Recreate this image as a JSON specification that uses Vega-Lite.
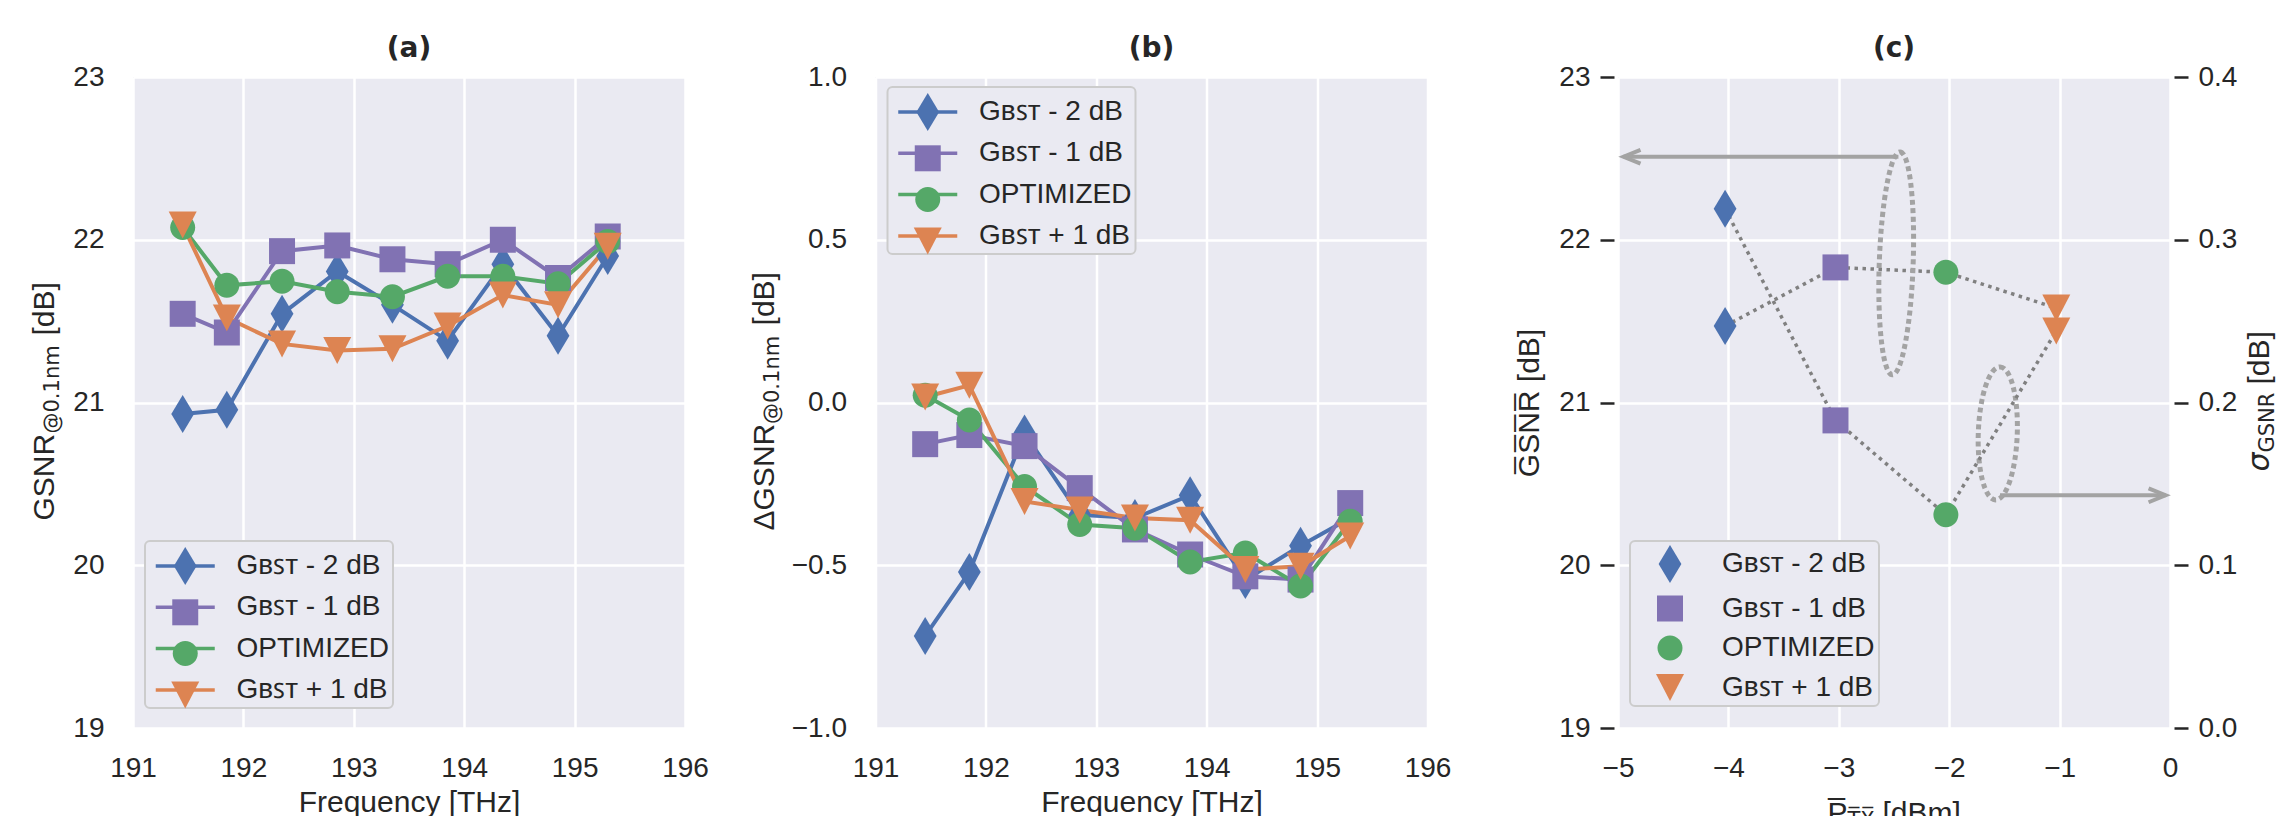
{
  "$schema": "https://vega.github.io/schema/vega-lite/v6.json",
  "autosize": {"type": "pad"},
  "padding": {"left": 28, "top": 34, "right": 0, "bottom": 0},
  "background": "white",
  "config": {
    "view": {"fill": "#EAEAF2", "stroke": null},
    "font": "Liberation Sans",
    "axis": {"labelFont": "Liberation Sans", "labelFontSize": 28, "labelColor": "#262626", "titleFont": "Liberation Sans", "titleFontSize": 30, "titleFontWeight": "normal", "titleColor": "#262626", "gridColor": "#FFFFFF", "gridWidth": 2.5, "gridOpacity": 1, "domain": false, "ticks": false, "tickSize": 0, "labelFlush": false, "labelOverlap": false},
    "title": {"font": "DejaVu Sans", "fontSize": 28, "fontWeight": "bold", "color": "#262626", "anchor": "middle", "frame": "group", "baseline": "alphabetic", "offset": 0.5},
    "legend": {"labelFont": "Liberation Sans", "labelFontSize": 28, "labelColor": "#262626", "labelLimit": 500, "fillColor": "#EAEAF2", "strokeColor": "#CCCCCC", "cornerRadius": 5, "symbolOpacity": 1, "padding": 4, "strokeWidth": 2}
  },
  "datasets": {
    "a": [
      {"f": 191.45, "v": 20.93, "s": "GBST - 2 dB"}, {"f": 191.85, "v": 20.955, "s": "GBST - 2 dB"}, {"f": 192.35, "v": 21.545, "s": "GBST - 2 dB"}, {"f": 192.85, "v": 21.805, "s": "GBST - 2 dB"}, {"f": 193.35, "v": 21.6, "s": "GBST - 2 dB"}, {"f": 193.85, "v": 21.38, "s": "GBST - 2 dB"}, {"f": 194.35, "v": 21.85, "s": "GBST - 2 dB"}, {"f": 194.85, "v": 21.41, "s": "GBST - 2 dB"}, {"f": 195.3, "v": 21.9, "s": "GBST - 2 dB"},
      {"f": 191.45, "v": 21.545, "s": "GBST - 1 dB"}, {"f": 191.85, "v": 21.43, "s": "GBST - 1 dB"}, {"f": 192.35, "v": 21.93, "s": "GBST - 1 dB"}, {"f": 192.85, "v": 21.965, "s": "GBST - 1 dB"}, {"f": 193.35, "v": 21.88, "s": "GBST - 1 dB"}, {"f": 193.85, "v": 21.85, "s": "GBST - 1 dB"}, {"f": 194.35, "v": 22.0, "s": "GBST - 1 dB"}, {"f": 194.85, "v": 21.765, "s": "GBST - 1 dB"}, {"f": 195.3, "v": 22.02, "s": "GBST - 1 dB"},
      {"f": 191.45, "v": 22.075, "s": "OPTIMIZED"}, {"f": 191.85, "v": 21.72, "s": "OPTIMIZED"}, {"f": 192.35, "v": 21.745, "s": "OPTIMIZED"}, {"f": 192.85, "v": 21.68, "s": "OPTIMIZED"}, {"f": 193.35, "v": 21.65, "s": "OPTIMIZED"}, {"f": 193.85, "v": 21.775, "s": "OPTIMIZED"}, {"f": 194.35, "v": 21.775, "s": "OPTIMIZED"}, {"f": 194.85, "v": 21.73, "s": "OPTIMIZED"}, {"f": 195.3, "v": 21.99, "s": "OPTIMIZED"},
      {"f": 191.45, "v": 22.09, "s": "GBST + 1 dB"}, {"f": 191.85, "v": 21.52, "s": "GBST + 1 dB"}, {"f": 192.35, "v": 21.36, "s": "GBST + 1 dB"}, {"f": 192.85, "v": 21.32, "s": "GBST + 1 dB"}, {"f": 193.35, "v": 21.33, "s": "GBST + 1 dB"}, {"f": 193.85, "v": 21.47, "s": "GBST + 1 dB"}, {"f": 194.35, "v": 21.66, "s": "GBST + 1 dB"}, {"f": 194.85, "v": 21.6, "s": "GBST + 1 dB"}, {"f": 195.3, "v": 21.96, "s": "GBST + 1 dB"}
    ],
    "b": [
      {"f": 191.45, "v": -0.717, "s": "GBST - 2 dB"}, {"f": 191.85, "v": -0.521, "s": "GBST - 2 dB"}, {"f": 192.35, "v": -0.095, "s": "GBST - 2 dB"}, {"f": 192.85, "v": -0.345, "s": "GBST - 2 dB"}, {"f": 193.35, "v": -0.355, "s": "GBST - 2 dB"}, {"f": 193.85, "v": -0.285, "s": "GBST - 2 dB"}, {"f": 194.35, "v": -0.545, "s": "GBST - 2 dB"}, {"f": 194.85, "v": -0.44, "s": "GBST - 2 dB"}, {"f": 195.3, "v": -0.355, "s": "GBST - 2 dB"},
      {"f": 191.45, "v": -0.128, "s": "GBST - 1 dB"}, {"f": 191.85, "v": -0.1, "s": "GBST - 1 dB"}, {"f": 192.35, "v": -0.134, "s": "GBST - 1 dB"}, {"f": 192.85, "v": -0.263, "s": "GBST - 1 dB"}, {"f": 193.35, "v": -0.39, "s": "GBST - 1 dB"}, {"f": 193.85, "v": -0.467, "s": "GBST - 1 dB"}, {"f": 194.35, "v": -0.534, "s": "GBST - 1 dB"}, {"f": 194.85, "v": -0.544, "s": "GBST - 1 dB"}, {"f": 195.3, "v": -0.309, "s": "GBST - 1 dB"},
      {"f": 191.45, "v": 0.022, "s": "OPTIMIZED"}, {"f": 191.85, "v": -0.054, "s": "OPTIMIZED"}, {"f": 192.35, "v": -0.258, "s": "OPTIMIZED"}, {"f": 192.85, "v": -0.375, "s": "OPTIMIZED"}, {"f": 193.35, "v": -0.386, "s": "OPTIMIZED"}, {"f": 193.85, "v": -0.49, "s": "OPTIMIZED"}, {"f": 194.35, "v": -0.462, "s": "OPTIMIZED"}, {"f": 194.85, "v": -0.564, "s": "OPTIMIZED"}, {"f": 195.3, "v": -0.365, "s": "OPTIMIZED"},
      {"f": 191.45, "v": 0.017, "s": "GBST + 1 dB"}, {"f": 191.85, "v": 0.053, "s": "GBST + 1 dB"}, {"f": 192.35, "v": -0.304, "s": "GBST + 1 dB"}, {"f": 192.85, "v": -0.33, "s": "GBST + 1 dB"}, {"f": 193.35, "v": -0.355, "s": "GBST + 1 dB"}, {"f": 193.85, "v": -0.362, "s": "GBST + 1 dB"}, {"f": 194.35, "v": -0.513, "s": "GBST + 1 dB"}, {"f": 194.85, "v": -0.503, "s": "GBST + 1 dB"}, {"f": 195.3, "v": -0.41, "s": "GBST + 1 dB"}
    ],
    "c": [
      {"p": -4.03, "m": 21.47, "sd": 0.319, "s": "GBST - 2 dB"},
      {"p": -3.03, "m": 21.83, "sd": 0.189, "s": "GBST - 1 dB"},
      {"p": -2.03, "m": 21.8, "sd": 0.131, "s": "OPTIMIZED"},
      {"p": -1.03, "m": 21.58, "sd": 0.244, "s": "GBST + 1 dB"}
    ],
    "ell1": [{"p": -2.48, "m": 21.855}],
    "ell2": [{"p": -1.56, "m": 20.81}],
    "arrows": [{"p": -2.46, "p2": -4.95, "m": 22.51}, {"p": -1.54, "p2": -0.04, "m": 20.43}],
    "headL": [{"p": -4.95, "m": 22.51}],
    "headR": [{"p": -0.04, "m": 20.43}]
  },
  "spacing": 190.5,
  "bounds": "flush",
  "resolve": {"scale": {"color": "shared", "shape": "shared", "stroke": "shared"}, "legend": {"color": "independent", "shape": "independent", "stroke": "independent"}},
  "hconcat": [
    {
      "width": 552, "height": 651,
      "title": {"text": "(a)"},
      "data": {"name": "a"},
      "resolve": {"axis": {"y": "independent"}},
      "layer": [
        {
          "mark": {"type": "line", "strokeWidth": 4},
          "encoding": {
            "x": {"field": "f", "type": "quantitative", "scale": {"domain": [191, 196], "nice": false, "zero": false}, "axis": {"values": [191, 192, 193, 194, 195, 196], "format": "d", "grid": true, "labelPadding": 48, "labelBaseline": "alphabetic", "title": "Frequency [THz]", "titleBaseline": "alphabetic", "titleY": 83.5}},
            "y": {"field": "v", "type": "quantitative", "scale": {"domain": [19, 23], "nice": false, "zero": false}, "axis": {"orient": "left", "values": [19, 20, 21, 22, 23], "format": "d", "grid": true, "labelPadding": 29, "title": "GSNR\u2003\u2003\u2003 [dB]", "titleAngle": 270, "titleAlign": "left", "titleBaseline": "alphabetic", "titleX": -80, "titleY": 443}},
            "stroke": {"field": "s", "type": "nominal", "sort": ["GBST - 2 dB", "GBST - 1 dB", "OPTIMIZED", "GBST + 1 dB"], "scale": {"range": ["#4C72B0", "#8172B3", "#55A868", "#DD8452"]}, "legend": {
              "orient": "none", "legendX": 12, "legendY": 464, "title": null, "zindex": 1,
              "symbolType": "M-1.553,0L1.553,0", "symbolSize": 1444, "symbolStrokeWidth": 3.5, "symbolOffset": 15.25, "labelOffset": 30.25, "rowPadding": 6.3,
              "labelExpr": "replace(datum.label, 'BST', '\u0299\uA731\u1D1B')"
            }}
          }
        },
        {
          "mark": {"type": "point", "filled": true, "opacity": 1, "size": 1444},
          "encoding": {
            "x": {"field": "f", "type": "quantitative", "axis": {"values": [191, 192, 193, 194, 195, 196], "format": "d", "grid": true, "labelPadding": 48, "labelBaseline": "alphabetic", "title": "Frequency [THz]", "titleBaseline": "alphabetic", "titleY": 83.5}},
            "y": {"field": "v", "type": "quantitative", "axis": {"orient": "left", "labels": false, "grid": false, "title": "@0.1nm", "titleFont": "DejaVu Sans", "titleFontSize": 21, "titleAngle": 270, "titleAlign": "left", "titleBaseline": "alphabetic", "titleX": -75, "titleY": 356}},
            "color": {"field": "s", "type": "nominal", "scale": {"domain": ["GBST - 2 dB", "GBST - 1 dB", "OPTIMIZED", "GBST + 1 dB"], "range": ["#4C72B0", "#8172B3", "#55A868", "#DD8452"]}, "legend": {
              "orient": "none", "legendX": 12, "legendY": 464, "title": null, "zindex": 2,
              "symbolSize": 1444, "symbolStrokeWidth": 3.5, "symbolOffset": 15.25, "labelOffset": 30.25, "rowPadding": 6.3,
              "fillColor": "transparent", "strokeColor": "transparent",
              "labelExpr": "''"
            }},
            "shape": {"field": "s", "type": "nominal", "scale": {"domain": ["GBST - 2 dB", "GBST - 1 dB", "OPTIMIZED", "GBST + 1 dB"], "range": ["M0,-1L0.6,0L0,1L-0.6,0Z", "M-0.684,-0.684L0.684,-0.684L0.684,0.684L-0.684,0.684Z", "M-0.658,0A0.658,0.658 0 1,0 0.658,0A0.658,0.658 0 1,0 -0.658,0Z", "M0,0.71L-0.737,-0.71L0.737,-0.71Z"]}, "legend": null}
          }
        }
      ]
    },
    {
      "width": 552, "height": 651,
      "title": {"text": "(b)"},
      "data": {"name": "b"},
      "resolve": {"axis": {"y": "independent"}},
      "layer": [
        {
          "mark": {"type": "line", "strokeWidth": 4},
          "encoding": {
            "x": {"field": "f", "type": "quantitative", "scale": {"domain": [191, 196], "nice": false, "zero": false}, "axis": {"values": [191, 192, 193, 194, 195, 196], "format": "d", "grid": true, "labelPadding": 48, "labelBaseline": "alphabetic", "title": "Frequency [THz]", "titleBaseline": "alphabetic", "titleY": 83.5}},
            "y": {"field": "v", "type": "quantitative", "scale": {"domain": [-1, 1], "nice": false, "zero": false}, "axis": {"orient": "left", "values": [-1, -0.5, 0, 0.5, 1], "format": ".1f", "grid": true, "labelPadding": 29, "title": "\u0394GSNR\u2003\u2003\u2003 [dB]", "titleAngle": 270, "titleAlign": "left", "titleBaseline": "alphabetic", "titleX": -102, "titleY": 453}},
            "stroke": {"field": "s", "type": "nominal", "sort": ["GBST - 2 dB", "GBST - 1 dB", "OPTIMIZED", "GBST + 1 dB"], "scale": {"range": ["#4C72B0", "#8172B3", "#55A868", "#DD8452"]}, "legend": {
              "orient": "none", "legendX": 12, "legendY": 10, "title": null, "zindex": 1,
              "symbolType": "M-1.553,0L1.553,0", "symbolSize": 1444, "symbolStrokeWidth": 3.5, "symbolOffset": 15.25, "labelOffset": 30.25, "rowPadding": 6.3,
              "labelExpr": "replace(datum.label, 'BST', '\u0299\uA731\u1D1B')"
            }}
          }
        },
        {
          "mark": {"type": "point", "filled": true, "opacity": 1, "size": 1444},
          "encoding": {
            "x": {"field": "f", "type": "quantitative", "axis": {"values": [191, 192, 193, 194, 195, 196], "format": "d", "grid": true, "labelPadding": 48, "labelBaseline": "alphabetic", "title": "Frequency [THz]", "titleBaseline": "alphabetic", "titleY": 83.5}},
            "y": {"field": "v", "type": "quantitative", "axis": {"orient": "left", "labels": false, "grid": false, "title": "@0.1nm", "titleFont": "DejaVu Sans", "titleFontSize": 21, "titleAngle": 270, "titleAlign": "left", "titleBaseline": "alphabetic", "titleX": -97, "titleY": 346.5}},
            "color": {"field": "s", "type": "nominal", "scale": {"domain": ["GBST - 2 dB", "GBST - 1 dB", "OPTIMIZED", "GBST + 1 dB"], "range": ["#4C72B0", "#8172B3", "#55A868", "#DD8452"]}, "legend": {
              "orient": "none", "legendX": 12, "legendY": 10, "title": null, "zindex": 2,
              "symbolSize": 1444, "symbolStrokeWidth": 3.5, "symbolOffset": 15.25, "labelOffset": 30.25, "rowPadding": 6.3,
              "fillColor": "transparent", "strokeColor": "transparent",
              "labelExpr": "''"
            }},
            "shape": {"field": "s", "type": "nominal", "scale": {"domain": ["GBST - 2 dB", "GBST - 1 dB", "OPTIMIZED", "GBST + 1 dB"], "range": ["M0,-1L0.6,0L0,1L-0.6,0Z", "M-0.684,-0.684L0.684,-0.684L0.684,0.684L-0.684,0.684Z", "M-0.658,0A0.658,0.658 0 1,0 0.658,0A0.658,0.658 0 1,0 -0.658,0Z", "M0,0.71L-0.737,-0.71L0.737,-0.71Z"]}, "legend": null}
          }
        }
      ]
    },
    {
      "width": 552, "height": 651,
      "title": {"text": "(c)"},
      "resolve": {"scale": {"y": "independent"}, "axis": {"x": "independent"}},
      "layer": [
        {
          "layer": [
            {
              "data": {"name": "c"},
              "mark": {"type": "line", "color": "#808080", "strokeWidth": 3.5, "strokeDash": [3.5, 4.5]},
              "encoding": {
                "x": {"field": "p", "type": "quantitative", "scale": {"domain": [-5, 0], "nice": false, "zero": false}, "axis": {"orient": "bottom", "values": [-5, -4, -3, -2, -1, 0], "format": "d", "grid": true, "labelPadding": 48, "labelBaseline": "alphabetic", "title": "P\u0305", "titleAlign": "left", "titleX": 209, "titleBaseline": "alphabetic", "titleY": 94.5}},
                "y": {"field": "m", "type": "quantitative", "scale": {"domain": [19, 23], "nice": false, "zero": false}, "axis": {"orient": "left", "values": [19, 20, 21, 22, 23], "format": "d", "grid": true, "ticks": true, "tickSize": 14, "tickWidth": 2.5, "tickColor": "#262626", "offset": 4, "labelPadding": 10, "title": "G\u0305S\u0305N\u0305R\u0305 [dB]", "titleAngle": 270, "titleBaseline": "alphabetic", "titleX": -76, "titleY": 325.5}}
              }
            },
            {
              "data": {"name": "ell1"},
              "mark": {"type": "point", "shape": "M0,-1A0.152,1 0 1,1 0,1A0.152,1 0 1,1 0,-1Z", "size": 49729, "filled": false, "color": "#a3a3a3", "strokeWidth": 5, "strokeDash": [5, 3.5], "opacity": 1, "angle": 2},
              "encoding": {
                "x": {"field": "p", "type": "quantitative", "axis": {"orient": "bottom", "values": [-5, -4, -3, -2, -1, 0], "format": "d", "grid": true, "labelPadding": 48, "labelBaseline": "alphabetic", "title": "P\u0305", "titleAlign": "left", "titleX": 209, "titleBaseline": "alphabetic", "titleY": 94.5}},
                "y": {"field": "m", "type": "quantitative"}
              }
            },
            {
              "data": {"name": "ell2"},
              "mark": {"type": "point", "shape": "M0,-1A0.293,1 0 1,1 0,1A0.293,1 0 1,1 0,-1Z", "size": 17689, "filled": false, "color": "#a3a3a3", "strokeWidth": 5, "strokeDash": [5, 3.5], "opacity": 1, "angle": 2},
              "encoding": {
                "x": {"field": "p", "type": "quantitative", "axis": {"orient": "bottom", "values": [-5, -4, -3, -2, -1, 0], "format": "d", "grid": true, "labelPadding": 48, "labelBaseline": "alphabetic", "title": "P\u0305", "titleAlign": "left", "titleX": 209, "titleBaseline": "alphabetic", "titleY": 94.5}},
                "y": {"field": "m", "type": "quantitative"}
              }
            },
            {
              "data": {"name": "arrows"},
              "mark": {"type": "rule", "color": "#a3a3a3", "strokeWidth": 4},
              "encoding": {
                "x": {"field": "p", "type": "quantitative", "axis": {"orient": "bottom", "values": [-5, -4, -3, -2, -1, 0], "format": "d", "grid": true, "labelPadding": 48, "labelBaseline": "alphabetic", "title": "P\u0305", "titleAlign": "left", "titleX": 209, "titleBaseline": "alphabetic", "titleY": 94.5}},
                "x2": {"field": "p2"},
                "y": {"field": "m", "type": "quantitative"}
              }
            },
            {
              "data": {"name": "headL"},
              "mark": {"type": "point", "shape": "M1,-0.41L0,0L1,0.41", "size": 1156, "filled": false, "color": "#a3a3a3", "strokeWidth": 4, "opacity": 1},
              "encoding": {
                "x": {"field": "p", "type": "quantitative", "axis": {"orient": "bottom", "values": [-5, -4, -3, -2, -1, 0], "format": "d", "grid": true, "labelPadding": 48, "labelBaseline": "alphabetic", "title": "P\u0305", "titleAlign": "left", "titleX": 209, "titleBaseline": "alphabetic", "titleY": 94.5}},
                "y": {"field": "m", "type": "quantitative"}
              }
            },
            {
              "data": {"name": "headR"},
              "mark": {"type": "point", "shape": "M-1,-0.41L0,0L-1,0.41", "size": 1156, "filled": false, "color": "#a3a3a3", "strokeWidth": 4, "opacity": 1},
              "encoding": {
                "x": {"field": "p", "type": "quantitative", "axis": {"orient": "bottom", "values": [-5, -4, -3, -2, -1, 0], "format": "d", "grid": true, "labelPadding": 48, "labelBaseline": "alphabetic", "title": "P\u0305", "titleAlign": "left", "titleX": 209, "titleBaseline": "alphabetic", "titleY": 94.5}},
                "y": {"field": "m", "type": "quantitative"}
              }
            },
            {
              "data": {"name": "c"},
              "mark": {"type": "point", "filled": true, "opacity": 1, "size": 1444},
              "encoding": {
                "x": {"field": "p", "type": "quantitative", "axis": {"orient": "bottom", "values": [-5, -4, -3, -2, -1, 0], "format": "d", "grid": true, "labelPadding": 48, "labelBaseline": "alphabetic", "title": "P\u0305", "titleAlign": "left", "titleX": 209, "titleBaseline": "alphabetic", "titleY": 94.5}},
                "y": {"field": "m", "type": "quantitative"},
                "color": {"field": "s", "type": "nominal", "scale": {"domain": ["GBST - 2 dB", "GBST - 1 dB", "OPTIMIZED", "GBST + 1 dB"], "range": ["#4C72B0", "#8172B3", "#55A868", "#DD8452"]}, "legend": {
                  "orient": "none", "legendX": 12, "legendY": 464, "title": null,
                  "symbolSize": 1444, "symbolStrokeWidth": 0, "symbolOffset": 17, "labelOffset": 33, "rowPadding": 6.5,
                  "labelExpr": "replace(datum.label, 'BST', '\u0299\uA731\u1D1B')"
                }},
                "shape": {"field": "s", "type": "nominal", "scale": {"domain": ["GBST - 2 dB", "GBST - 1 dB", "OPTIMIZED", "GBST + 1 dB"], "range": ["M0,-1L0.6,0L0,1L-0.6,0Z", "M-0.684,-0.684L0.684,-0.684L0.684,0.684L-0.684,0.684Z", "M-0.658,0A0.658,0.658 0 1,0 0.658,0A0.658,0.658 0 1,0 -0.658,0Z", "M0,0.71L-0.737,-0.71L0.737,-0.71Z"]}, "legend": null}
              }
            }
          ]
        },
        {
          "data": {"name": "c"},
          "resolve": {"axis": {"y": "independent"}},
          "layer": [
            {
              "mark": {"type": "line", "color": "#808080", "strokeWidth": 3.5, "strokeDash": [3.5, 4.5]},
              "encoding": {
                "x": {"field": "p", "type": "quantitative", "axis": {"orient": "bottom", "labels": false, "grid": false, "title": "T\u0305X\u0305", "titleFont": "DejaVu Sans", "titleFontSize": 21, "titleAlign": "left", "titleX": 229, "titleBaseline": "alphabetic", "titleY": 98.5}},
                "y": {"field": "sd", "type": "quantitative", "scale": {"domain": [0, 0.4], "nice": false, "zero": false}, "axis": {"orient": "right", "values": [0, 0.1, 0.2, 0.3, 0.4], "format": ".1f", "grid": false, "ticks": true, "tickSize": 14, "tickWidth": 2.5, "tickColor": "#262626", "offset": 4, "labelPadding": 10, "title": "\u03C3", "titleFont": "DejaVu Sans", "titleFontStyle": "italic", "titleAngle": 270, "titleAlign": "left", "titleBaseline": "alphabetic", "titleX": 94, "titleY": 394}}
              }
            },
            {
              "mark": {"type": "point", "filled": true, "opacity": 1, "size": 1444},
              "encoding": {
                "x": {"field": "p", "type": "quantitative", "axis": {"orient": "bottom", "labels": false, "grid": false, "title": "T\u0305X\u0305", "titleFont": "DejaVu Sans", "titleFontSize": 21, "titleAlign": "left", "titleX": 229, "titleBaseline": "alphabetic", "titleY": 98.5}},
                "y": {"field": "sd", "type": "quantitative", "axis": {"orient": "right", "labels": false, "grid": false, "title": "GSNR", "titleFont": "DejaVu Sans", "titleFontSize": 21, "titleAngle": 270, "titleAlign": "left", "titleBaseline": "alphabetic", "titleX": 103, "titleY": 375}},
                "color": {"field": "s", "type": "nominal", "legend": null},
                "shape": {"field": "s", "type": "nominal", "legend": null}
              }
            },
            {
              "mark": {"type": "point", "opacity": 0},
              "encoding": {
                "x": {"field": "p", "type": "quantitative", "axis": {"orient": "bottom", "labels": false, "grid": false, "title": "T\u0305X\u0305", "titleFont": "DejaVu Sans", "titleFontSize": 21, "titleAlign": "left", "titleX": 229, "titleBaseline": "alphabetic", "titleY": 98.5}},
                "y": {"field": "sd", "type": "quantitative", "axis": {"orient": "right", "labels": false, "grid": false, "title": "[dB]", "titleAngle": 270, "titleAlign": "left", "titleBaseline": "alphabetic", "titleX": 98, "titleY": 307}}
              }
            }
          ]
        },
        {
          "data": {"name": "c"},
          "mark": {"type": "point", "opacity": 0},
          "encoding": {
            "x": {"field": "p", "type": "quantitative", "axis": {"orient": "bottom", "labels": false, "grid": false, "title": "[dBm]", "titleAlign": "left", "titleX": 264, "titleBaseline": "alphabetic", "titleY": 94.5}},
            "y": {"field": "m", "type": "quantitative", "scale": {"domain": [19, 23], "nice": false, "zero": false}, "axis": null}
          }
        }
      ]
    }
  ]
}
